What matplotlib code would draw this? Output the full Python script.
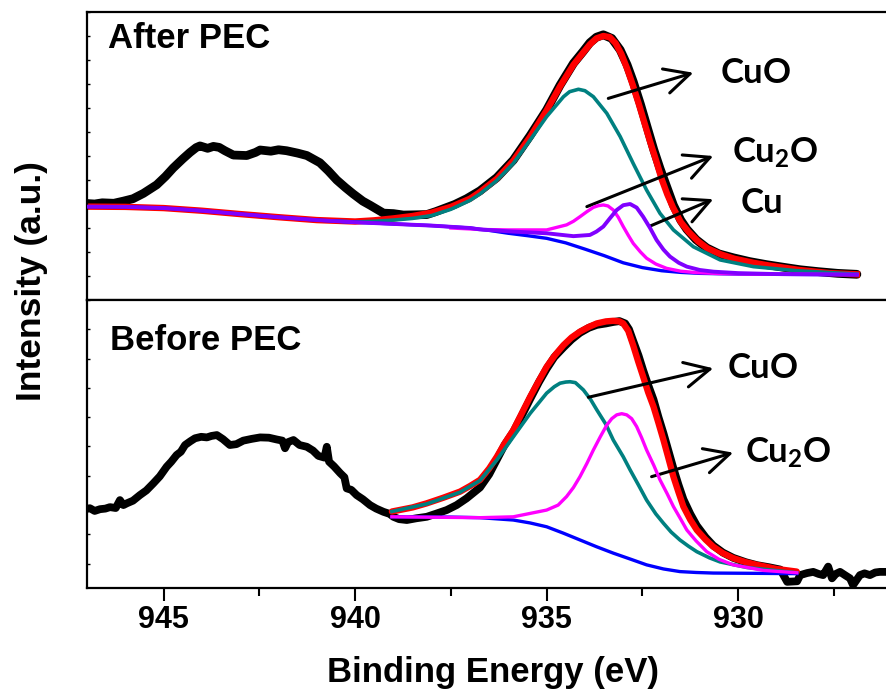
import matplotlib
matplotlib.use("Agg")
import matplotlib.pyplot as plt
from matplotlib.ticker import MultipleLocator

plt.rcParams['font.family'] = ['Liberation Sans', 'DejaVu Sans']
plt.rcParams['font.weight'] = 'bold'
plt.rcParams['mathtext.fontset'] = 'custom'
plt.rcParams['mathtext.rm'] = 'Lato:bold'
plt.rcParams['mathtext.it'] = 'Lato:bold'
plt.rcParams['mathtext.bf'] = 'Lato:bold'

# ---------------- After PEC (top panel) ----------------
top_data_E = [947.0, 946.8, 946.6, 946.3, 946.05, 945.8, 945.53, 945.18, 944.95, 944.75,
              944.5, 944.31, 944.15, 944.05, 943.85, 943.70, 943.55, 943.4, 943.18, 942.83,
              942.6, 942.48, 942.2, 942.0, 941.79, 941.5, 941.26, 940.92, 940.7, 940.48,
              940.25, 940.05, 939.8, 939.61, 939.26, 939.0, 938.74, 938.4, 938.13, 937.9,
              937.70, 937.4, 937.09, 936.74, 936.3, 935.87, 935.43, 935.0, 934.65, 934.30,
              934.05, 933.87, 933.70, 933.52, 933.3, 933.08, 932.9, 932.74, 932.55, 932.39,
              932.2, 932.04, 931.85, 931.69, 931.5, 931.34, 931.1, 930.82, 930.5, 930.13,
              929.7, 929.25, 928.8, 928.38, 927.9, 927.4, 926.9]
top_data_I = [4.02, 4.00, 4.05, 4.03, 4.12, 4.22, 4.44, 4.80, 5.15, 5.50,
              5.88, 6.15, 6.35, 6.42, 6.32, 6.40, 6.36, 6.22, 6.04, 6.02,
              6.15, 6.25, 6.20, 6.26, 6.22, 6.12, 6.02, 5.72, 5.38, 5.00,
              4.68, 4.42, 4.12, 3.95, 3.62, 3.60, 3.54, 3.55, 3.56, 3.68,
              3.80, 3.98, 4.22, 4.55, 5.10, 5.83, 6.85, 7.92, 8.95, 9.86,
              10.35, 10.72, 10.95, 11.05, 10.90, 10.42, 9.80, 9.10, 8.15, 7.28,
              6.25, 5.48, 4.65, 3.95, 3.33, 2.95, 2.52, 2.17, 1.92, 1.76,
              1.60, 1.47, 1.36, 1.26, 1.18, 1.11, 1.07]

top_fit_E = [947.0, 946.0, 945.0, 944.0, 943.0, 942.0, 941.0, 940.5, 940.0, 939.5,
             939.0, 938.5, 938.0, 937.5, 937.0, 936.74, 936.3, 935.87, 935.43, 935.0,
             934.65, 934.3, 934.05, 933.87, 933.7, 933.52, 933.35, 933.2, 933.05, 932.9,
             932.75, 932.6, 932.45, 932.3, 932.15, 932.0, 931.85, 931.7, 931.5, 931.3,
             931.05, 930.8, 930.45, 930.1, 929.6, 929.2, 928.4, 927.6, 926.9]
top_fit_I = [3.89, 3.88, 3.83, 3.72, 3.58, 3.45, 3.33, 3.30, 3.27, 3.32,
             3.40, 3.50, 3.64, 3.88, 4.22, 4.50, 5.05, 5.80, 6.80, 7.90,
             8.90, 9.80, 10.30, 10.65, 10.90, 11.00, 10.95, 10.70, 10.25, 9.65,
             8.95, 8.20, 7.40, 6.60, 5.85, 5.05, 4.40, 3.85, 3.25, 2.85,
             2.45, 2.15, 1.90, 1.72, 1.55, 1.44, 1.25, 1.12, 1.07]

top_cuo_E = [940.5, 940.0, 939.5, 939.0, 938.5, 938.0, 937.5, 937.0, 936.74, 936.3,
             935.87, 935.43, 935.0, 934.56, 934.4, 934.17, 934.0, 933.78, 933.43, 933.08,
             932.74, 932.39, 932.04, 931.69, 931.17, 930.47, 929.6, 928.47, 926.9]
top_cuo_I = [3.29, 3.25, 3.28, 3.33, 3.40, 3.52, 3.78, 4.15, 4.42, 4.98,
             5.69, 6.67, 7.64, 8.47, 8.68, 8.78, 8.72, 8.47, 7.78, 6.81,
             5.69, 4.58, 3.61, 2.92, 2.22, 1.67, 1.39, 1.22, 1.08]

top_bg_E = [947.0, 946.0, 945.0, 944.0, 943.0, 942.0, 941.0, 940.0, 939.0, 938.0,
            937.0, 936.5, 936.0, 935.5, 935.0, 934.5, 934.0, 933.5, 933.0, 932.5,
            932.0, 931.5, 931.0, 930.0, 929.0, 928.0, 926.9]
top_bg_I = [3.89, 3.88, 3.83, 3.72, 3.58, 3.45, 3.33, 3.24, 3.17, 3.10,
            3.00, 2.90, 2.78, 2.68, 2.57, 2.38, 2.12, 1.85, 1.55, 1.35,
            1.22, 1.15, 1.11, 1.08, 1.07, 1.06, 1.05]

top_cu2o_E = [937.5, 936.74, 936.0, 935.0, 934.48, 934.3, 934.13, 933.95, 933.78, 933.65,
              933.52, 933.4, 933.26, 933.13, 933.0, 932.87, 932.74, 932.55, 932.39, 932.15,
              931.87, 931.5, 931.08, 930.5, 929.5, 928.0, 926.9]
top_cu2o_I = [3.00, 2.94, 2.92, 2.92, 3.13, 3.28, 3.47, 3.68, 3.86, 3.93,
              3.96, 3.92, 3.75, 3.45, 3.06, 2.70, 2.36, 2.00, 1.74, 1.50,
              1.32, 1.20, 1.14, 1.10, 1.08, 1.07, 1.06]

top_cu_E = [947.0, 946.0, 945.0, 944.0, 943.0, 942.0, 941.0, 940.0, 939.0, 938.0,
            937.0, 936.74, 935.87, 935.0, 934.3, 933.87, 933.7, 933.52, 933.35, 933.17,
            933.0, 932.82, 932.65, 932.48, 932.3, 932.13, 931.95, 931.78, 931.55, 931.34,
            931.0, 930.64, 930.0, 929.0, 928.0, 926.9]
top_cu_I = [3.89, 3.88, 3.83, 3.72, 3.58, 3.45, 3.33, 3.24, 3.17, 3.10,
            3.00, 2.94, 2.85, 2.78, 2.66, 2.71, 2.85, 3.06, 3.40, 3.75,
            3.95, 4.00, 3.85, 3.47, 3.00, 2.50, 2.10, 1.81, 1.55, 1.39,
            1.25, 1.18, 1.12, 1.08, 1.07, 1.06]

# ---------------- Before PEC (bottom panel) ----------------
bot_data_E = [947.1, 946.92, 946.8, 946.66, 946.52, 946.40, 946.25, 946.14, 946.05, 945.96,
              945.8, 945.62, 945.45, 945.27, 945.1, 944.92, 944.8, 944.66, 944.55, 944.44,
              944.3, 944.18, 944.02, 943.87, 943.75, 943.61, 943.45, 943.27, 943.1, 942.92,
              942.7, 942.48, 942.25, 942.05, 941.9, 941.83, 941.75, 941.61, 941.45, 941.26,
              941.1, 940.96, 940.8, 940.74, 940.68, 940.55, 940.39, 940.28, 940.22, 940.1,
              939.96, 939.8, 939.61, 939.45, 939.26, 939.1, 939.0, 938.85, 938.65, 938.4,
              938.13, 937.9, 937.61, 937.35, 937.09, 936.74, 936.5, 936.3, 936.1, 935.87,
              935.65, 935.43, 935.2, 935.0, 934.8, 934.56, 934.35, 934.13, 933.9, 933.69,
              933.45, 933.26, 933.1, 932.95, 932.85, 932.74, 932.6, 932.48, 932.35, 932.21,
              932.08, 931.95, 931.82, 931.69, 931.56, 931.43, 931.25, 931.08, 930.85, 930.65,
              930.4, 930.13, 929.8, 929.51, 929.2, 928.9, 928.72, 928.46, 928.38, 928.2,
              928.04, 927.9, 927.78, 927.65, 927.55, 927.45, 927.34, 927.2, 927.08, 927.0,
              926.82, 926.7, 926.56, 926.42, 926.3, 926.14, 925.9]
bot_data_I = [1.85, 1.89, 1.80, 1.86, 1.88, 1.93, 1.90, 2.17, 2.00, 2.06,
              2.15, 2.34, 2.50, 2.74, 2.98, 3.31, 3.48, 3.71, 3.82, 4.05,
              4.18, 4.28, 4.33, 4.31, 4.36, 4.39, 4.25, 4.05, 4.08, 4.20,
              4.26, 4.31, 4.30, 4.24, 4.20, 3.94, 4.15, 4.22, 4.05, 3.99,
              3.86, 3.68, 3.62, 3.99, 3.48, 3.32, 3.09, 2.95, 2.57, 2.52,
              2.34, 2.20, 2.00, 1.88, 1.77, 1.70, 1.60, 1.52, 1.49, 1.55,
              1.60, 1.70, 1.83, 2.00, 2.23, 2.60, 3.05, 3.55, 4.05, 4.50,
              5.05, 5.62, 6.20, 6.65, 7.05, 7.38, 7.65, 7.88, 8.05, 8.15,
              8.20, 8.25, 8.28, 8.20, 8.00, 7.60, 7.10, 6.60, 6.10, 5.60,
              5.00, 4.45, 3.85, 3.25, 2.70, 2.20, 1.70, 1.30, 0.90, 0.62,
              0.38, 0.20, 0.05, -0.05, -0.12, -0.20, -0.62, -0.60, -0.39, -0.32,
              -0.28, -0.35, -0.39, -0.10, -0.50, -0.35, -0.28, -0.40, -0.50, -0.73,
              -0.39, -0.33, -0.39, -0.30, -0.28, -0.28, -0.30]

bot_fit_E = [939.04, 938.5, 938.13, 937.7, 937.26, 937.0, 936.74, 936.5, 936.3, 936.1,
             935.87, 935.65, 935.43, 935.2, 935.0, 934.78, 934.56, 934.35, 934.13, 933.9,
             933.69, 933.45, 933.26, 933.1, 933.0, 932.87, 932.74, 932.61, 932.48, 932.35,
             932.21, 932.08, 931.95, 931.82, 931.69, 931.56, 931.43, 931.25, 931.08, 930.85,
             930.65, 930.4, 930.13, 929.8, 929.51, 929.0, 928.47]
bot_fit_I = [1.78, 1.92, 2.06, 2.25, 2.46, 2.65, 2.86, 3.25, 3.65, 4.10,
             4.56, 5.13, 5.70, 6.25, 6.72, 7.12, 7.46, 7.72, 7.92, 8.08,
             8.20, 8.27, 8.29, 8.27, 8.20, 7.95, 7.45, 6.90, 6.38, 5.85,
             5.36, 4.80, 4.22, 3.60, 2.97, 2.45, 1.95, 1.50, 1.15, 0.82,
             0.58, 0.36, 0.19, 0.05, -0.04, -0.18, -0.27]

bot_cuo_E = [939.04, 938.13, 937.26, 936.74, 936.30, 935.87, 935.43, 935.0, 934.8, 934.65,
             934.5, 934.39, 934.25, 934.04, 933.85, 933.69, 933.45, 933.26, 933.0, 932.82,
             932.6, 932.39, 932.15, 931.95, 931.75, 931.52, 931.3, 931.08, 930.75, 930.47,
             929.77, 928.47]
bot_cuo_I = [1.78, 2.04, 2.44, 2.84, 3.54, 4.33, 5.13, 5.82, 6.04, 6.16,
             6.20, 6.21, 6.18, 5.93, 5.60, 5.25, 4.75, 4.22, 3.65, 3.20,
             2.68, 2.17, 1.70, 1.38, 1.08, 0.81, 0.60, 0.41, 0.20, 0.06,
             -0.13, -0.31]

bot_cu2o_E = [939.04, 936.74, 935.87, 935.0, 934.7, 934.48, 934.3, 934.13, 933.95, 933.78,
              933.6, 933.43, 933.3, 933.17, 933.04, 932.91, 932.78, 932.65, 932.52, 932.39,
              932.2, 932.04, 931.85, 931.69, 931.5, 931.34, 931.1, 930.82, 930.5, 930.13,
              929.34, 928.47]
bot_cu2o_I = [1.60, 1.57, 1.60, 1.83, 2.00, 2.29, 2.60, 2.97, 3.42, 3.88,
              4.33, 4.73, 4.95, 5.08, 5.12, 5.08, 4.95, 4.68, 4.30, 3.88,
              3.35, 2.86, 2.38, 1.95, 1.52, 1.15, 0.78, 0.41, 0.15, -0.04,
              -0.23, -0.31]

bot_bg_E = [939.04, 937.5, 936.74, 935.87, 935.43, 935.0, 934.56, 934.13, 933.7, 933.26,
            932.8, 932.39, 931.95, 931.52, 931.1, 930.65, 929.5, 928.47]
bot_bg_I = [1.60, 1.59, 1.57, 1.49, 1.39, 1.26, 1.04, 0.81, 0.58, 0.36,
            0.15, -0.04, -0.18, -0.27, -0.30, -0.32, -0.33, -0.34]

x_major = [945, 940, 935, 930]
x_labels = ['945', '940', '935', '930']

C_DATA = 'black'
C_FIT = '#ff0000'
C_CUO = '#008080'
C_BG = '#0000ff'
C_CU2O = '#ff00ff'
C_CU = '#8000ff'

W, H = 886, 696
fig = plt.figure(figsize=(W / 100, H / 100), dpi=100)

ax_l = 87 / W
ax_w = 799 / W
ax_top = fig.add_axes([ax_l, (H - 300) / H, ax_w, 288 / H])
ax_bot = fig.add_axes([ax_l, (H - 588) / H, ax_w, 288 / H])

for ax in (ax_top, ax_bot):
    ax.set_xlim(947, 926.14)
    ax.xaxis.set_major_locator(MultipleLocator(5))
    ax.xaxis.set_minor_locator(MultipleLocator(2.5))
    ax.yaxis.set_major_locator(MultipleLocator(1))
    ax.tick_params(axis='x', which='major', direction='out', length=9.5, width=1.5,
                   top=False, bottom=True)
    ax.tick_params(axis='x', which='minor', direction='out', length=6, width=1.5,
                   top=False, bottom=True)
    ax.tick_params(axis='y', which='major', direction='in', length=2.5, width=1.0,
                   left=True, right=False, labelleft=False)
    for s in ('left', 'top', 'bottom'):
        ax.spines[s].set_linewidth(1.6)
    ax.spines['right'].set_visible(False)

ax_top.set_ylim(0, 12)
ax_bot.set_ylim(-0.83, 9)
ax_top.tick_params(axis='x', labelbottom=False)
ax_bot.set_xticks(x_major)
ax_bot.set_xticklabels(x_labels)
ax_bot.tick_params(axis='x', which='major', labelsize=22, pad=3)
for lbl in ax_bot.get_xticklabels():
    lbl.set_fontweight('bold')

# top panel curves
ax_top.plot(top_data_E, top_data_I, color=C_DATA, lw=6.3, solid_capstyle='round',
            solid_joinstyle='round', zorder=1)
ax_top.plot(top_fit_E, top_fit_I, color=C_FIT, lw=4.6, zorder=2)
ax_top.plot(top_cuo_E, top_cuo_I, color=C_CUO, lw=2.6, zorder=3)
ax_top.plot(top_bg_E, top_bg_I, color=C_BG, lw=2.4, zorder=4)
ax_top.plot(top_cu2o_E, top_cu2o_I, color=C_CU2O, lw=2.4, zorder=5)
ax_top.plot(top_cu_E, top_cu_I, color=C_CU, lw=2.8, zorder=6)

# bottom panel curves
ax_bot.plot(bot_data_E, bot_data_I, color=C_DATA, lw=5.6, solid_capstyle='round',
            solid_joinstyle='round', zorder=1)
ax_bot.plot(bot_fit_E, bot_fit_I, color=C_FIT, lw=4.6, solid_capstyle='round', zorder=2)
ax_bot.plot(bot_cuo_E, bot_cuo_I, color=C_CUO, lw=2.6, zorder=3)
ax_bot.plot(bot_bg_E, bot_bg_I, color=C_BG, lw=2.4, zorder=4)
ax_bot.plot(bot_cu2o_E, bot_cu2o_I, color=C_CU2O, lw=2.4, zorder=5)

# panel titles
ax_top.text(0.026, 0.875, 'After PEC', transform=ax_top.transAxes, fontsize=25,
            fontweight='bold', ha='left', va='baseline')
ax_bot.text(0.029, 0.826, 'Before PEC', transform=ax_bot.transAxes, fontsize=25,
            fontweight='bold', ha='left', va='baseline')

arrow_kw = dict(arrowstyle='->, head_length=0.9, head_width=0.45', color='black',
                lw=2.2, mutation_scale=20, shrinkA=0, shrinkB=0)

def label(ax, txt, x, y):
    ax.text(x, y, txt, fontsize=25, ha='left', va='baseline', color='black')

def arrow(ax, x0, y0, x1, y1):
    ax.annotate('', xy=(x1, y1), xytext=(x0, y0), arrowprops=arrow_kw,
                annotation_clip=False)

# top annotations
arrow(ax_top, 933.39, 8.40, 931.17, 9.47)
label(ax_top, r'$\mathrm{CuO}$', 930.47, 9.04)
arrow(ax_top, 933.95, 3.89, 930.65, 6.00)
label(ax_top, r'$\mathrm{Cu_2O}$', 930.17, 5.71)
arrow(ax_top, 932.30, 3.08, 930.65, 4.20)
label(ax_top, r'$\mathrm{Cu}$', 929.95, 3.62)

# bottom annotations
arrow(ax_bot, 933.91, 5.68, 930.65, 6.67)
label(ax_bot, r'$\mathrm{CuO}$', 930.30, 6.34)
arrow(ax_bot, 932.26, 2.97, 930.13, 3.79)
label(ax_bot, r'$\mathrm{Cu_2O}$', 929.82, 3.44)

# axis titles
fig.text(493 / W, (H - 682) / H, 'Binding Energy (eV)', fontsize=25,
         fontweight='bold', ha='center', va='baseline')
fig.text(32 / W, (H - 281) / H, 'Intensity (a.u.)', fontsize=25.5,
         fontweight='bold', ha='center', va='center', rotation=90)

fig.savefig('out.png', dpi=100)
